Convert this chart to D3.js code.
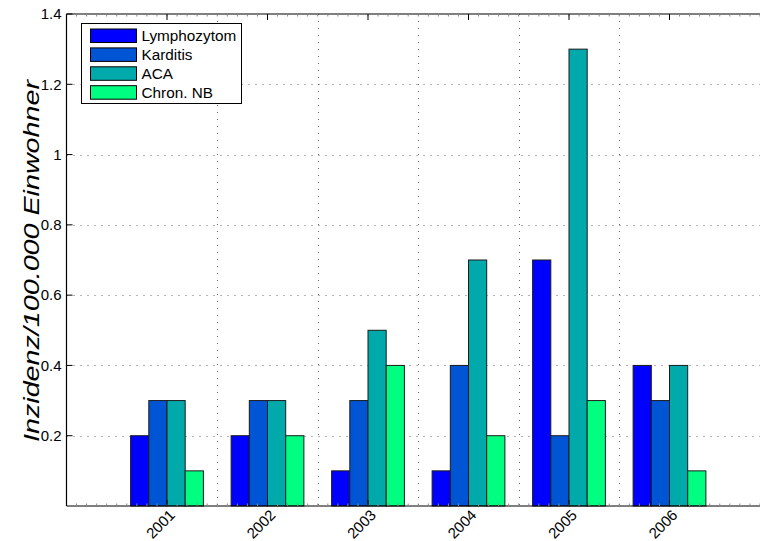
<!DOCTYPE html>
<html>
<head>
<meta charset="utf-8">
<script src="https://cdn.jsdelivr.net/npm/d3@7"></script>
<style>
html,body{margin:0;padding:0;background:#fff;overflow:hidden;}
svg{display:block;font-family:"Liberation Sans",Arial,sans-serif;}
</style>
</head>
<body>
<svg id="chart" width="760" height="541"></svg>
<script>
const years = ["2001","2002","2003","2004","2005","2006"];
const seriesNames = ["Lymphozytom","Karditis","ACA","Chron. NB"];
const lymphozytom = [0.2,0.2,0.1,0.1,0.7,0.4];
const karditis = [0.3,0.3,0.3,0.4,0.2,0.3];
const aca = [0.3,0.3,0.5,0.7,1.3,0.4];
const chronNB = [0.1,0.2,0.4,0.2,0.3,0.1];
const yTicks = [0.2,0.4,0.6,0.8,1.0,1.2,1.4];
const colors = ["#0000ff","#0055d4","#00aaaa","#00ff80"];
const allSeries = [lymphozytom,karditis,aca,chronNB];

const svg = d3.select("#chart");
const pLeft = 66.5, pTop = 14, pBottom = 506;
const x = d3.scaleLinear().domain([0,7]).range([pLeft, pLeft + 7*100.5]);
const y = d3.scaleLinear().domain([0,1.4]).range([pBottom, pTop]);
const barW = 0.181;

// grid
const g = svg.append("g");
const gridColor = "#666";
g.selectAll(".hg").data(yTicks.filter(d=>d<1.4)).enter().append("line")
  .attr("x1", pLeft).attr("x2", 760)
  .attr("y1", d=>Math.round(y(d))+0.5).attr("y2", d=>Math.round(y(d))+0.5)
  .attr("stroke", gridColor).attr("stroke-width",1).attr("stroke-dasharray","1,6");
const vGrid = [1.5,2.5,3.5,4.5,5.5];
g.selectAll(".vg").data(vGrid).enter().append("line")
  .attr("x1", d=>Math.round(x(d))+0.5).attr("x2", d=>Math.round(x(d))+0.5)
  .attr("y1", pTop).attr("y2", pBottom)
  .attr("stroke", gridColor).attr("stroke-width",1).attr("stroke-dasharray","1,6");

// bars
allSeries.forEach((vals, si) => {
  svg.append("g").selectAll("rect").data(vals).enter().append("rect")
    .attr("x", (d,i)=> x(i+1 + (si-2)*barW))
    .attr("width", x(barW)-x(0))
    .attr("y", d=>y(d))
    .attr("height", d=>y(0)-y(d))
    .attr("fill", colors[si])
    .attr("stroke", "#1a1a1a").attr("stroke-width", 1);
});

// axes lines
svg.append("line").attr("x1",pLeft).attr("x2",pLeft).attr("y1",pTop).attr("y2",pBottom).attr("stroke","#000").attr("stroke-width",1.2);
svg.append("line").attr("x1",pLeft).attr("x2",760).attr("y1",pBottom).attr("y2",pBottom).attr("stroke","#000").attr("stroke-width",1.2);
svg.append("line").attr("x1",pLeft).attr("x2",760).attr("y1",pTop).attr("y2",pTop).attr("stroke","#000").attr("stroke-width",1.2);

// minor ticks top/bottom
const minor = d3.range(1,70).map(d=>d/10);
svg.append("g").selectAll("line").data(minor).enter().append("line")
  .attr("x1",d=>x(d)).attr("x2",d=>x(d)).attr("y1",pTop).attr("y2",pTop+2.5)
  .attr("stroke","#888").attr("stroke-width",1);
svg.append("g").selectAll("line").data(minor).enter().append("line")
  .attr("x1",d=>x(d)).attr("x2",d=>x(d)).attr("y1",pBottom).attr("y2",pBottom-2.5)
  .attr("stroke","#888").attr("stroke-width",1);

// major x ticks
const xt = years.map((d,i)=>i+1);
svg.append("g").selectAll("line").data(xt).enter().append("line")
  .attr("x1",d=>x(d)).attr("x2",d=>x(d)).attr("y1",pTop).attr("y2",pTop+6)
  .attr("stroke","#000").attr("stroke-width",1);
svg.append("g").selectAll("line").data(xt).enter().append("line")
  .attr("x1",d=>x(d)).attr("x2",d=>x(d)).attr("y1",pBottom).attr("y2",pBottom-6)
  .attr("stroke","#000").attr("stroke-width",1);

// y ticks
svg.append("g").selectAll("line").data(yTicks).enter().append("line")
  .attr("x1",pLeft).attr("x2",pLeft+6).attr("y1",d=>y(d)).attr("y2",d=>y(d))
  .attr("stroke","#000").attr("stroke-width",1);
svg.append("g").selectAll("text").data(yTicks).enter().append("text")
  .attr("x", pLeft-5).attr("y", d=>y(d)).attr("dy","0.35em")
  .attr("text-anchor","end").attr("font-size",15).attr("fill","#000")
  .text(d=>d===1?"1":d3.format(".1f")(d));

// x tick labels
svg.append("g").selectAll("text").data(years).enter().append("text")
  .attr("transform",(d,i)=>`translate(${x(i+1)+9},${pBottom+10}) rotate(-45)`)
  .attr("text-anchor","end").attr("font-size",15).attr("fill","#000")
  .text(d=>d);

// y label
svg.append("text")
  .attr("transform",`translate(39,${(pTop+pBottom)/2 + 1}) rotate(-90)`)
  .attr("text-anchor","middle").attr("font-size",22).attr("font-style","italic")
  .attr("textLength",362).attr("lengthAdjust","spacingAndGlyphs")
  .attr("fill","#000").text("Inzidenz/100.000 Einwohner");

// legend
const lg = svg.append("g");
lg.append("rect").attr("x",81.5).attr("y",23.5).attr("width",160).attr("height",80)
  .attr("fill","#fff").attr("stroke","#000").attr("stroke-width",1);
seriesNames.forEach((n,i)=>{
  const cy = 35.5 + i*18.9;
  lg.append("rect").attr("x",90.5).attr("y",cy-6.5).attr("width",46).attr("height",13.5)
    .attr("fill",colors[i]).attr("stroke","#000").attr("stroke-width",1);
  lg.append("text").attr("x",141.5).attr("y",cy).attr("dy","0.35em")
    .attr("font-size",15.3).attr("fill","#000").text(n);
});
</script>
</body>
</html>
